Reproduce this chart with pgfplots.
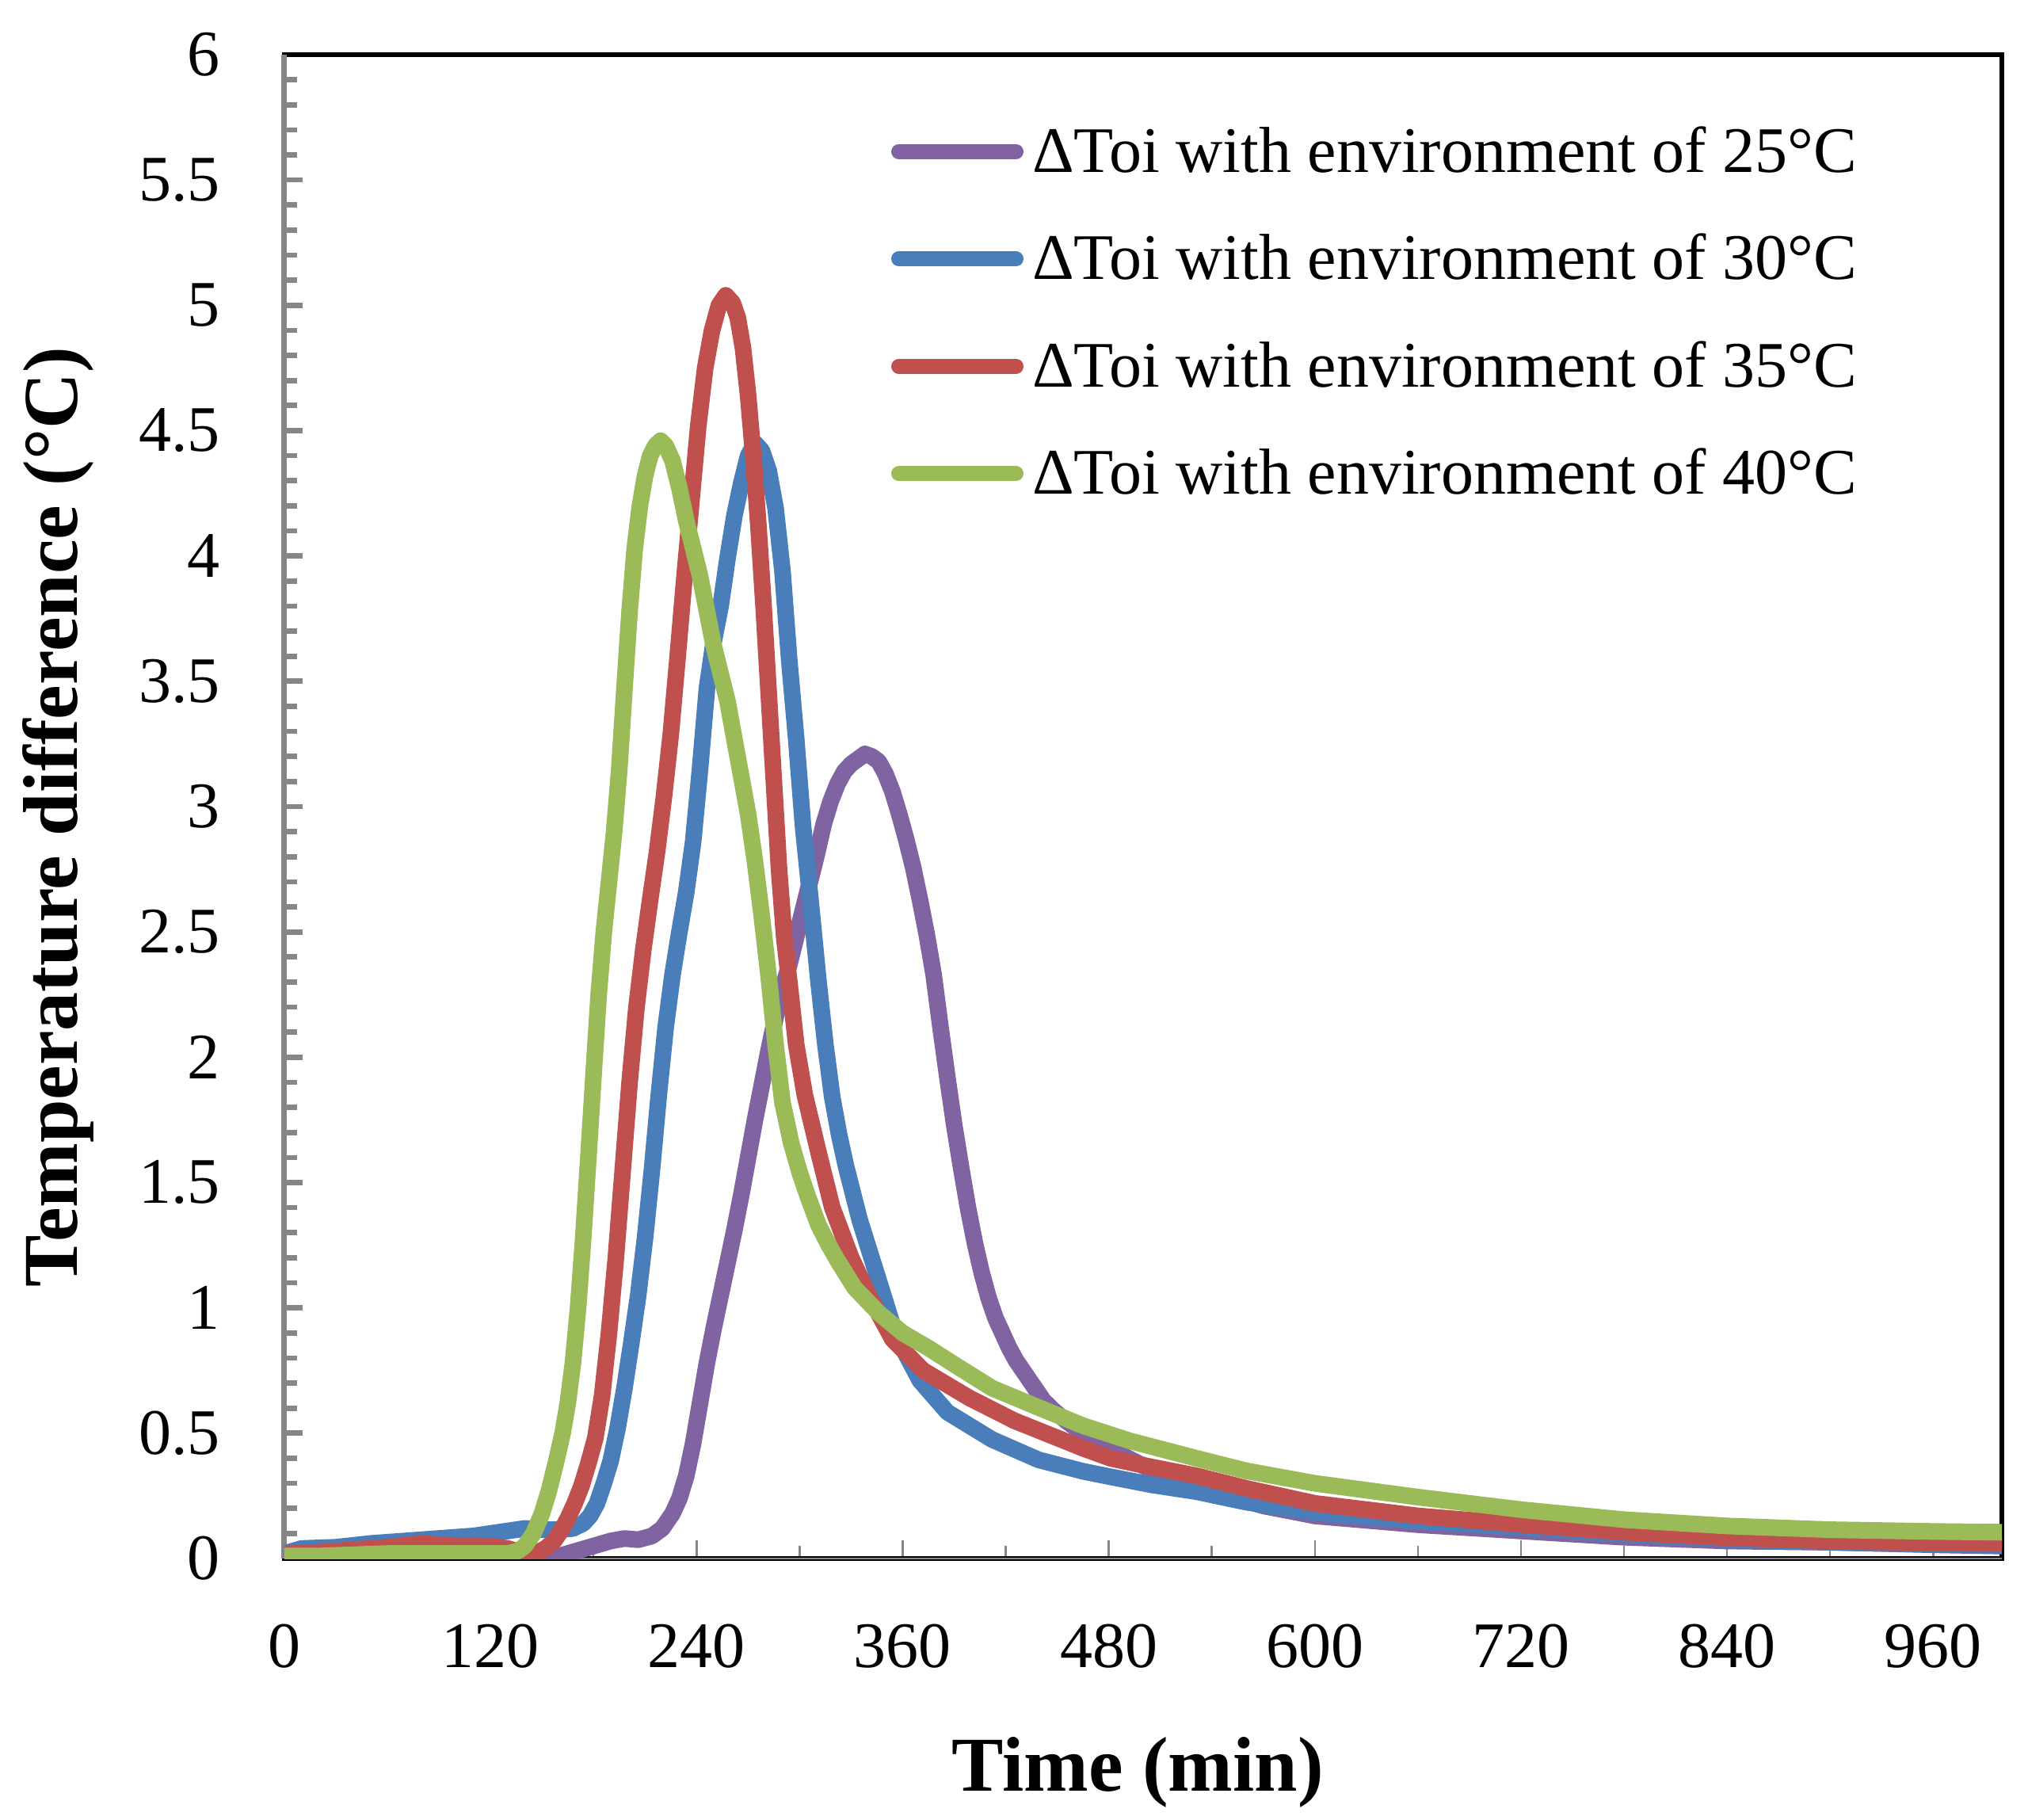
\documentclass[border=0pt]{standalone}
\usepackage{fontspec}
\setmainfont{Liberation Serif}
\usepackage{pgfplots}
\pgfplotsset{compat=1.18}
\definecolor{c25}{RGB}{128,100,162}
\definecolor{c30}{RGB}{74,126,187}
\definecolor{c35}{RGB}{192,80,77}
\definecolor{c40}{RGB}{155,187,89}
\definecolor{axgray}{RGB}{134,134,134}

\pgfplotstableread{
t v
0 0.00
20 0.02
40 0.03
60 0.04
80 0.05
100 0.05
120 0.04
135 0.025
150 0.01
160 0.01
170 0.03
180 0.05
190 0.07
198 0.08
206 0.075
214 0.09
220 0.12
226 0.18
230 0.24
234 0.33
238 0.46
242 0.62
246 0.78
250 0.92
254 1.05
258 1.18
262 1.31
266 1.45
270 1.60
274 1.75
278 1.89
282 2.03
286 2.16
290 2.27
294 2.37
298 2.48
302 2.59
306 2.70
310 2.81
314 2.93
318 3.02
322 3.09
326 3.14
330 3.17
334 3.19
338 3.21
342 3.20
346 3.18
350 3.13
354 3.06
358 2.97
362 2.87
366 2.76
370 2.63
374 2.49
378 2.33
382 2.12
386 1.92
390 1.73
394 1.56
398 1.40
402 1.26
406 1.14
410 1.04
414 0.96
418 0.90
422 0.84
426 0.79
430 0.75
436 0.69
442 0.63
448 0.59
455 0.55
465 0.50
480 0.44
500 0.37
520 0.31
540 0.27
570 0.21
600 0.17
660 0.135
720 0.11
780 0.085
840 0.07
900 0.065
960 0.055
1000 0.05
}\dataA

\pgfplotstableread{
t v
0 0.02
10 0.04
30 0.045
50 0.06
70 0.07
90 0.08
110 0.09
125 0.105
140 0.12
150 0.115
160 0.115
168 0.12
174 0.14
178 0.17
182 0.22
186 0.30
190 0.39
194 0.52
198 0.68
202 0.86
206 1.05
210 1.28
214 1.55
218 1.85
222 2.12
226 2.33
230 2.50
234 2.66
238 2.86
242 3.15
246 3.47
250 3.66
254 3.80
258 3.99
262 4.16
266 4.29
270 4.40
274 4.45
278 4.42
282 4.34
286 4.19
290 3.94
294 3.58
298 3.27
302 2.92
306 2.65
311 2.30
315 2.05
319 1.84
323 1.69
327 1.565
335 1.35
346 1.11
356 0.89
370 0.71
386 0.584
412 0.475
439 0.394
465 0.348
481 0.326
505 0.294
531 0.267
560 0.225
600 0.184
660 0.15
720 0.125
780 0.098
840 0.077
900 0.065
960 0.057
1000 0.052
}\dataB

\pgfplotstableread{
t v
0 0.00
3 0.02
20 0.025
40 0.035
60 0.045
80 0.06
100 0.05
120 0.05
130 0.04
140 0.02
146 0.02
152 0.04
157 0.07
161 0.11
165 0.16
169 0.22
173 0.29
177 0.38
181 0.48
185 0.65
189 0.90
193 1.20
197 1.55
201 1.90
205 2.20
209 2.43
213 2.63
217 2.82
221 3.04
225 3.29
229 3.60
233 3.92
237 4.22
241 4.52
245 4.75
249 4.90
253 5.00
257 5.04
261 5.01
264 4.95
267 4.83
270 4.64
273 4.40
276 4.12
279 3.80
282 3.45
285 3.10
288 2.75
291 2.48
294 2.30
298 2.05
303 1.85
311 1.62
319 1.40
330 1.20
341 1.04
354 0.875
372 0.75
399 0.64
425 0.55
465 0.44
481 0.40
505 0.365
531 0.33
560 0.28
600 0.22
660 0.17
720 0.136
780 0.105
840 0.083
900 0.07
960 0.063
1000 0.06
}\dataC

\pgfplotstableread{
t v
0 0.01
20 0.01
40 0.015
60 0.02
80 0.02
100 0.02
120 0.02
130 0.02
136 0.03
140 0.05
145 0.10
150 0.18
154 0.27
158 0.38
162 0.50
165 0.62
168 0.78
171 1.00
174 1.28
177 1.60
180 1.93
183 2.25
186 2.50
189 2.70
192 2.90
195 3.15
198 3.47
201 3.78
204 4.03
207 4.20
210 4.32
213 4.40
216 4.44
219 4.46
222 4.44
226 4.38
230 4.27
234 4.14
238 4.03
242 3.92
246 3.78
250 3.64
254 3.53
258 3.42
262 3.27
266 3.12
270 2.97
274 2.78
278 2.56
282 2.32
286 2.05
290 1.82
295 1.66
300 1.54
305 1.44
311 1.33
317 1.25
322 1.19
332 1.08
346 0.98
360 0.90
375 0.84
391 0.77
412 0.68
440 0.60
465 0.53
492 0.47
531 0.40
560 0.35
600 0.30
660 0.245
720 0.195
780 0.155
840 0.13
900 0.115
960 0.108
1000 0.105
}\dataD

\begin{document}
\begin{tikzpicture}
\useasboundingbox (-35.9pt,-32.9pt) rectangle (220.1pt,196.7pt);
\begin{axis}[
  at={(0,0)}, anchor=south west,
  scale only axis, width=216.8pt, height=189.8pt,
  xmin=0, xmax=1000, ymin=0, ymax=6,
  xtick={0,120,...,960}, ytick={0,0.5,...,6},
  minor x tick num=1, minor y tick num=4,
  tick align=inside, tick pos=left,
  major tick length=2.3pt, minor tick length=1.6pt,
  xtick style={axgray, line width=0.25pt},
  ytick style={axgray, line width=0.67pt},
  axis line style={black, line width=0.67pt},
  clip mode=individual,
  ticklabel style={font=\fontsize{8.2}{9}\selectfont},
  /pgf/number format/assume math mode=true,
  xticklabel style={yshift=-4.8pt},
  yticklabel style={xshift=-4.6pt},
  xlabel={Time (min)},
  ylabel={Temperature difference (°C)},
  label style={font=\bfseries\fontsize{9.8}{11}\selectfont},
  xlabel style={at={(axis description cs:0.497,-0.1423)}, anchor=center},
  ylabel style={at={(axis description cs:-0.1319,0.493)}, anchor=center},
  legend style={draw=none, fill=none, at={(axis description cs:0.3524,0.9545)}, anchor=north west,
    inner sep=0pt, row sep=5.75pt, column sep=1.1pt,
    font=\fontsize{8.2}{9}\selectfont,
    nodes={inner sep=0pt, text height=6pt, text depth=1.8pt}},
  legend cell align=left,
  legend image code/.code={\draw[#1, line width=1.9pt, line cap=round] (0.95pt,0.5pt) -- (15.75pt,0.5pt);},
  every axis plot/.append style={line width=2.1pt, line join=round, no markers},
]
\draw[axgray, line width=0.7pt] (rel axis cs:0,0) -- (rel axis cs:0,1);
\draw[axgray, line width=0.25pt] (rel axis cs:0,0) -- (rel axis cs:1,0);
\addplot[c25] table[x=t, y=v] {\dataA};
\addlegendentry{ΔToi with environment of 25°C}
\addplot[c30] table[x=t, y=v] {\dataB};
\addlegendentry{ΔToi with environment of 30°C}
\addplot[c35] table[x=t, y=v] {\dataC};
\addlegendentry{ΔToi with environment of 35°C}
\addplot[c40] table[x=t, y=v] {\dataD};
\addlegendentry{ΔToi with environment of 40°C}
\end{axis}
\end{tikzpicture}
\end{document}
